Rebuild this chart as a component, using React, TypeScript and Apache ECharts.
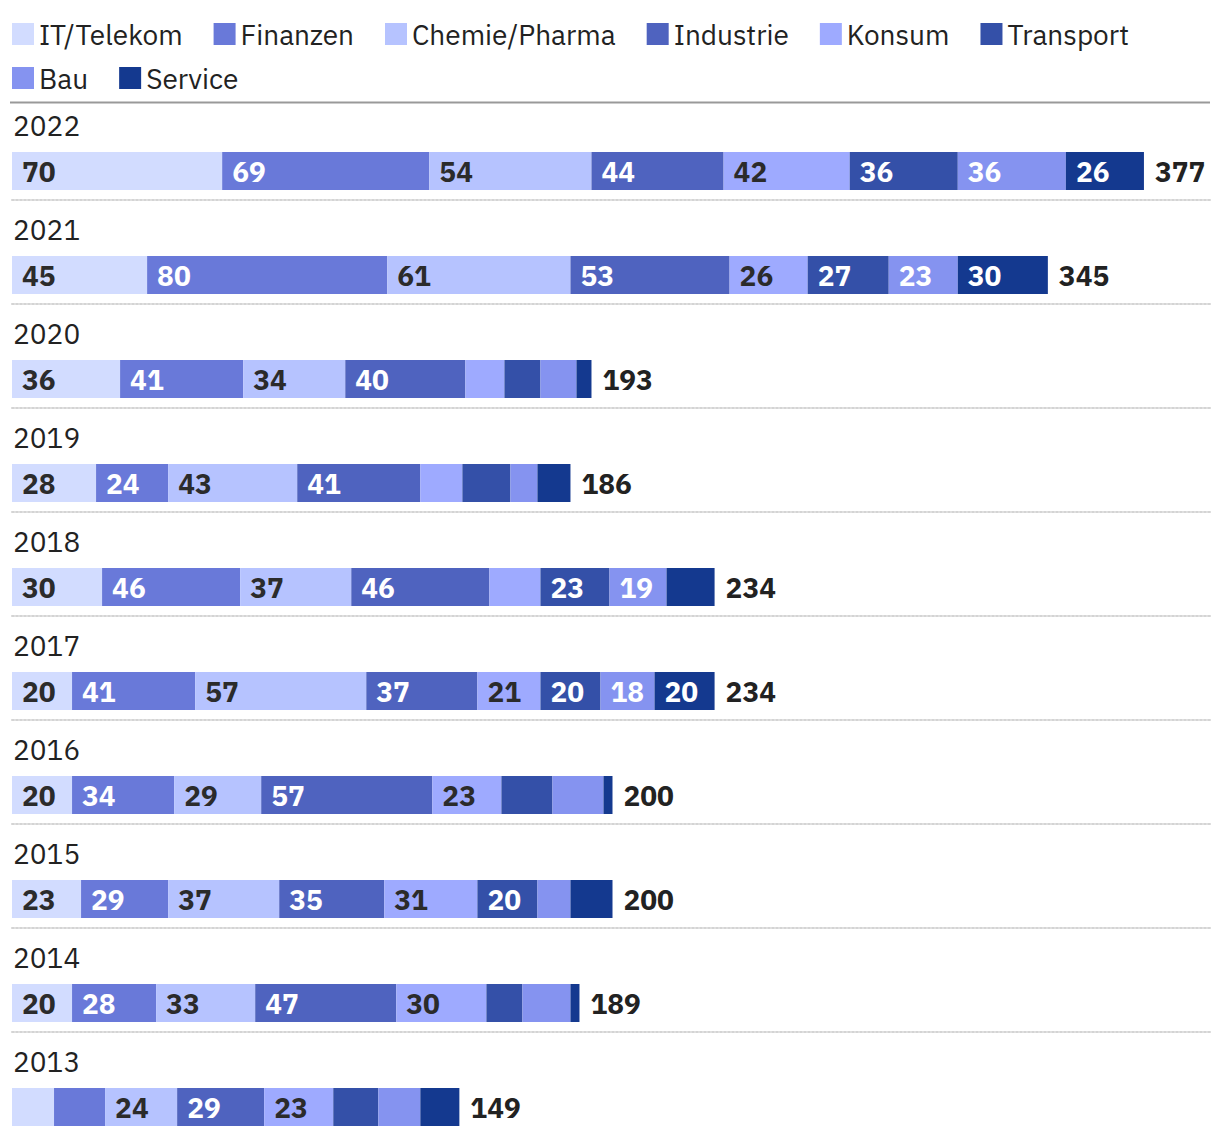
import React, { useEffect, useRef } from "react";
import * as echarts from "echarts";

const years = ["2022", "2021", "2020", "2019", "2018", "2017", "2016", "2015", "2014", "2013"];
const sectors = ["IT/Telekom", "Finanzen", "Chemie/Pharma", "Industrie", "Konsum", "Transport", "Bau", "Service"];
const colors = ["#d2dcff", "#6979d9", "#b6c3ff", "#4f63bf", "#9eaaff", "#3450a8", "#8593f0", "#14398f"];
const labelColors = ["#2b2b2b", "#ffffff", "#2b2b2b", "#ffffff", "#2b2b2b", "#ffffff", "#ffffff", "#ffffff"];

// values per year (rows follow `years`), columns follow `sectors`
const itTelekom = [70, 45, 36, 28, 30, 20, 20, 23, 20, 14];
const finanzen = [69, 80, 41, 24, 46, 41, 34, 29, 28, 17];
const chemiePharma = [54, 61, 34, 43, 37, 57, 29, 37, 33, 24];
const industrie = [44, 53, 40, 41, 46, 37, 57, 35, 47, 29];
const konsum = [42, 26, 13, 14, 17, 21, 23, 31, 30, 23];
const transport = [36, 27, 12, 16, 23, 20, 17, 20, 12, 15];
const bau = [36, 23, 12, 9, 19, 18, 17, 11, 16, 14];
const service = [26, 30, 5, 11, 16, 20, 3, 14, 3, 13];
const totals = [377, 345, 193, 186, 234, 234, 200, 200, 189, 149];

const sectorValues = [itTelekom, finanzen, chemiePharma, industrie, konsum, transport, bau, service];
const LABEL_MIN = 18;
const FONT = "'IBM Plex Sans', 'Noto Sans', sans-serif";

export default function App() {
  const ref = useRef<HTMLDivElement>(null);
  useEffect(() => {
    if (!ref.current) return;
    const chart = echarts.init(ref.current, undefined, { renderer: "svg" });
    const grids: any[] = [];
    const xAxes: any[] = [];
    const yAxes: any[] = [];
    const series: any[] = [];
    years.forEach((year, i) => {
      grids.push({ left: 4, right: 2, top: 144 + 104 * i, height: 38, containLabel: false });
      xAxes.push({
        gridIndex: i,
        type: "value",
        min: 0,
        max: 399,
        axisLabel: { show: false },
        axisTick: { show: false },
        splitLine: { show: false },
        axisLine: {
          show: i < years.length - 1,
          onZero: false,
          lineStyle: { color: "#d4d4d4", width: 2, type: [2, 2] },
        },
        offset: 10,
      });
      yAxes.push({
        gridIndex: i,
        type: "category",
        data: [year],
        axisLine: { show: false },
        axisTick: { show: false },
        axisLabel: { show: false },
        name: year,
        nameLocation: "end",
        nameGap: 13,
        nameTextStyle: { align: "left", fontSize: 28, color: "#222", fontFamily: FONT, padding: [0, 0, 0, 1] },
      });
      sectors.forEach((s, k) => {
        const v = sectorValues[k][i];
        series.push({
          type: "bar",
          name: s,
          xAxisIndex: i,
          yAxisIndex: i,
          stack: "s" + i,
          barWidth: 38,
          itemStyle: { color: colors[k] },
          data: [v],
          label: {
            show: v >= LABEL_MIN,
            position: "insideLeft",
            distance: 10,
            color: labelColors[k],
            fontSize: 28,
            fontWeight: "bold",
            fontFamily: FONT,
          },
          emphasis: { disabled: true },
        });
      });
      series.push({
        type: "bar",
        name: "Gesamt",
        xAxisIndex: i,
        yAxisIndex: i,
        stack: "s" + i,
        barWidth: 38,
        itemStyle: { color: "transparent" },
        data: [0],
        label: {
          show: true,
          position: "right",
          distance: 11,
          formatter: () => String(totals[i]),
          color: "#222",
          fontSize: 28,
          fontWeight: "bold",
          fontFamily: FONT,
        },
        emphasis: { disabled: true },
      });
    });

    chart.setOption({
      animation: false,
      legend: {
        data: sectors,
        left: 4,
        top: 12,
        right: 0,
        padding: 0,
        itemWidth: 22,
        itemHeight: 22,
        itemGap: 16,
        icon: "rect",
        selectedMode: false,
        textStyle: {
          fontSize: 28,
          lineHeight: 24,
          color: "#222",
          fontFamily: FONT,
          padding: [0, 15, 0, 0],
        },
      },
      graphic: [
        {
          type: "line",
          shape: { x1: 2, y1: 94.5, x2: 1202, y2: 94.5 },
          style: { stroke: "#999", lineWidth: 2 },
        },
      ],
      grid: grids,
      xAxis: xAxes,
      yAxis: yAxes,
      series,
    });
    return () => chart.dispose();
  }, []);
  return <div ref={ref} style={{ width: 1204, height: 1130 }} />;
}
